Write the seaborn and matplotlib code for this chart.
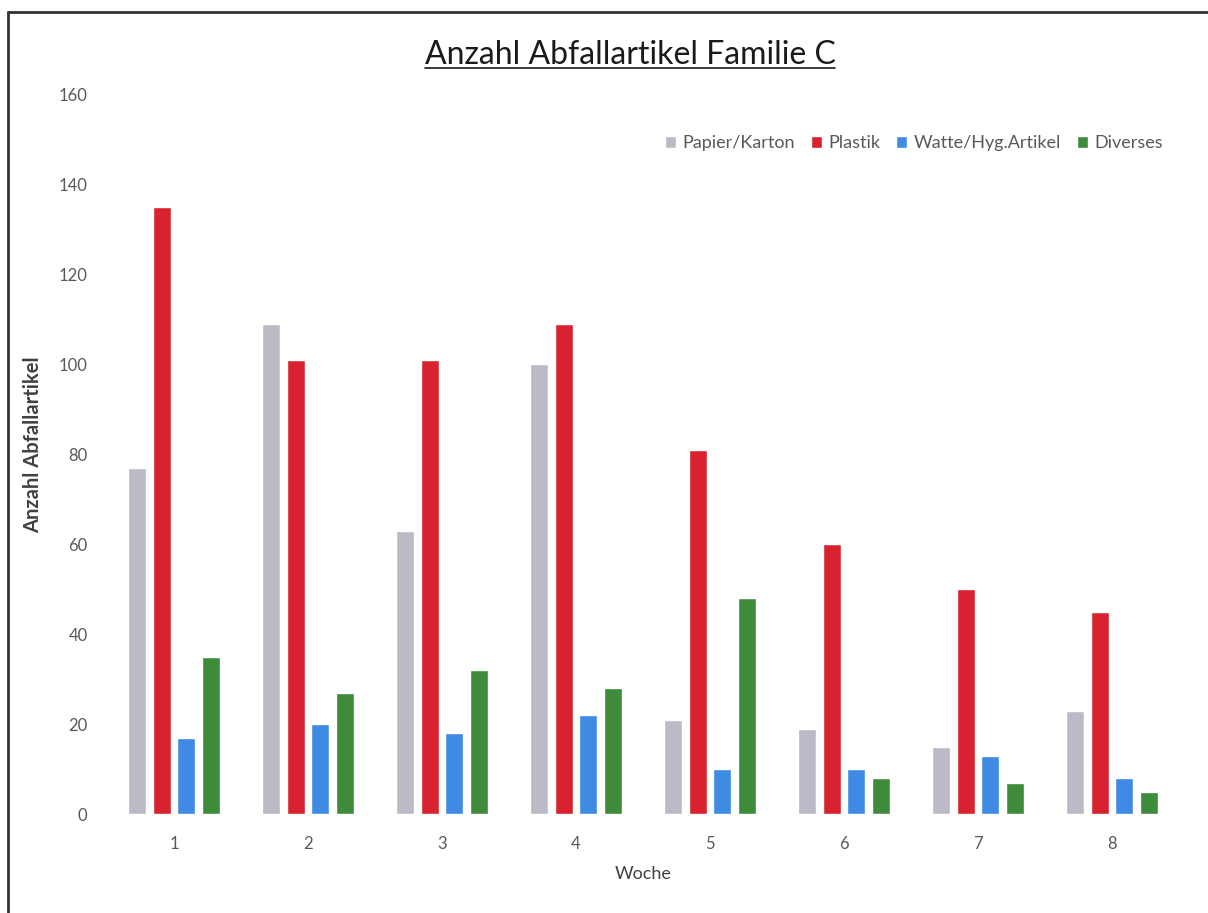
import pandas as pd
import seaborn as sns
import matplotlib.pyplot as plt
from matplotlib.lines import Line2D

# data
weeks = ['1', '2', '3', '4', '5', '6', '7', '8']
papier = [77, 109, 63, 100, 21, 19, 15, 23]
plastik = [135, 101, 101, 109, 81, 60, 50, 45]
watte = [17, 20, 18, 22, 10, 10, 13, 8]
diverses = [35, 27, 32, 28, 48, 8, 7, 5]
categories = ['Papier/Karton', 'Plastik', 'Watte/Hyg.Artikel', 'Diverses']
colors = ['#B9BAC6', '#D8222F', '#3F8AE2', '#3D8B3B']
y_ticks = [0, 20, 40, 60, 80, 100, 120, 140, 160]

## long table for seaborn
df = pd.DataFrame({'Woche': weeks * 4,
                   'Kategorie': [c for c in categories for _ in weeks],
                   'Anzahl': papier + plastik + watte + diverses})

sns.set_style('white')
plt.rcParams['font.family'] = ['Lato', 'DejaVu Sans']

fig = plt.figure(figsize=(12.08, 9.13), dpi=100)
ax = fig.add_axes([0.0886, 0.1084, 0.8874, 0.7886])

sns.barplot(data=df, x='Woche', y='Anzahl', hue='Kategorie', hue_order=categories,
            palette=colors, width=0.73, gap=0.27, saturation=1, ax=ax, legend=True)

ax.set_ylim(0, 160)
ax.set_xlim(-0.5, 7.5)
ax.set_yticks(y_ticks)
ax.tick_params(axis='both', length=0, labelsize=12, labelcolor='#595959')
ax.tick_params(axis='y', pad=14)
ax.tick_params(axis='x', pad=16)
sns.despine(ax=ax, left=True, bottom=True)

ax.set_xlabel('Woche', fontsize=13, color='#404040', labelpad=10)
ax.set_ylabel('Anzahl Abfallartikel', fontsize=14.5, color='#404040', fontweight='bold')
ax.yaxis.set_label_coords(-0.06, 0.5125)

leg = ax.legend(loc='upper right', bbox_to_anchor=(1.0, 0.965), ncol=4, frameon=False,
                fontsize=13, handlelength=0.6, handleheight=0.6, handletextpad=0.35,
                columnspacing=0.9, labelcolor='#595959')

## title with underline
title = fig.text(630 / 1208, 1 - 55 / 913, 'Anzahl Abfallartikel Familie C', ha='center', va='center',
                 fontsize=23, color='#1a1a1a')
fig.canvas.draw()
bb = title.get_window_extent().transformed(fig.transFigure.inverted())
fig.add_artist(Line2D([bb.x0, bb.x1], [bb.y0 + 0.002, bb.y0 + 0.002], transform=fig.transFigure,
                      color='#1a1a1a', lw=1.2))

## page frame: top and left
fig.add_artist(Line2D([8 / 1208, 1], [1 - 12 / 913, 1 - 12 / 913], transform=fig.transFigure,
                      color='#333333', lw=2))
fig.add_artist(Line2D([8 / 1208, 8 / 1208], [0, 1 - 12 / 913], transform=fig.transFigure,
                      color='#333333', lw=2))

fig.savefig('out.png', dpi=100)
